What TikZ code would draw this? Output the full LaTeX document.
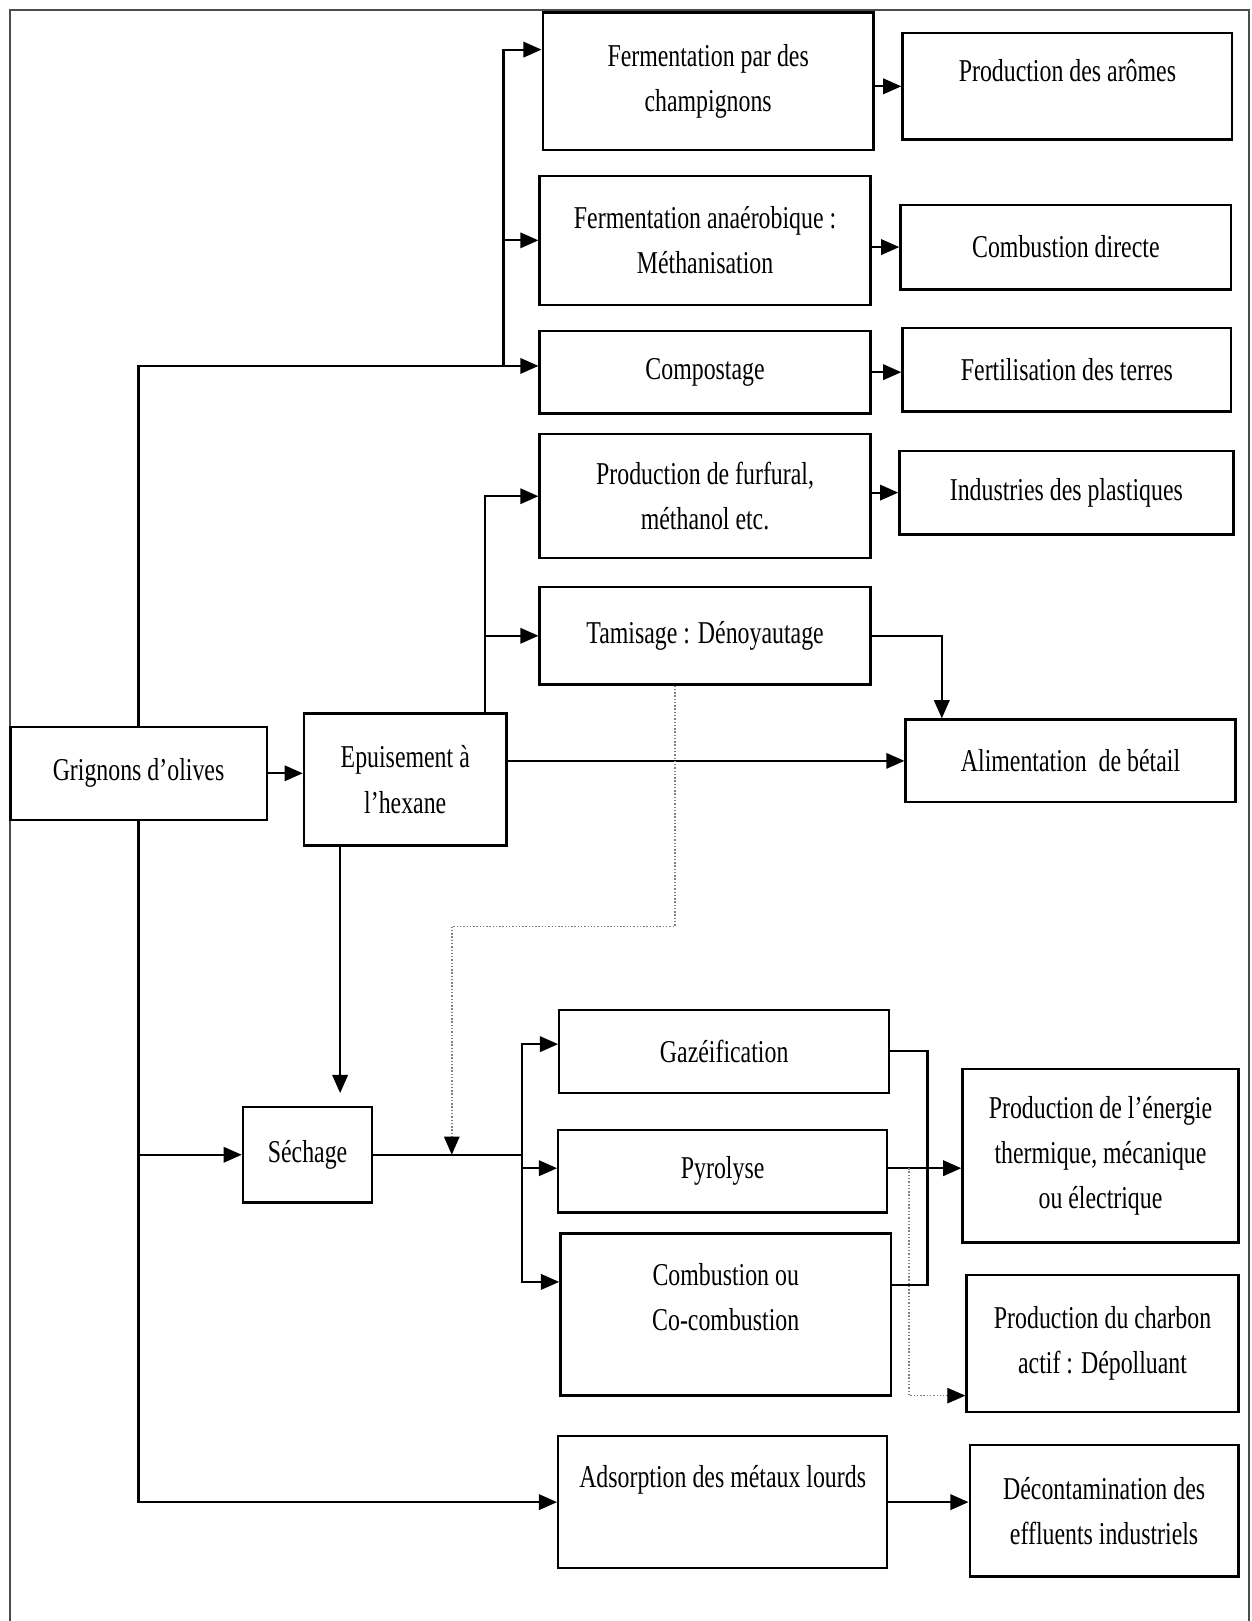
\documentclass[tikz,border=0pt]{standalone}
\usepackage{fontspec}
\setmainfont{Liberation Serif}[FakeStretch=0.75]
\usetikzlibrary{arrows.meta}

\begin{document}
\begin{tikzpicture}[
  boite/.style={
    rectangle,
    draw,
    line width=1.3pt,
    align=center,
    inner sep=2pt,
    font=\fontsize{17.5pt}{25pt}\selectfont
  },
  fleche/.style={
    -{Triangle[length=10pt,width=8.5pt]},
    line width=1.2pt
  },
  trait/.style={
    line width=1.2pt
  },
  pointille/.style={
    -{Triangle[length=10pt,width=8.5pt,color=black]},
    densely dotted,
    gray,
    line width=0.8pt
  },
  cadre/.style={
    gray!60!black,
    line width=1.2pt
  }
]

\useasboundingbox (0,0) rectangle (24.22,-31.36);

% =========================================================
% CADRE
% =========================================================

\draw[cadre]
  (0.2,-31.36) -- (0.2,-0.2) -- (24.16,-0.2) -- (24.16,-31.36);

% =========================================================
% ETAPES
% =========================================================

\node[boite, minimum width=4.96cm, minimum height=1.8cm] (grign) at (2.68,-14.96)
  {Grignons d’olives};

\node[boite, minimum width=3.92cm, minimum height=2.56cm] (epuis) at (7.84,-15.08)
  {Epuisement à\\l’hexane};

\node[boite, minimum width=2.5cm, minimum height=1.84cm] (sechage) at (5.95,-22.34)
  {Séchage};

% --- valorisation biologique ---

\node[boite, minimum width=6.4cm, minimum height=2.66cm] (ferm) at (13.70,-1.57)
  {Fermentation par des\\champignons};

\node[boite, minimum width=6.4cm, minimum height=2.5cm] (metha) at (13.64,-4.65)
  {Fermentation anaérobique :\\Méthanisation};

\node[boite, minimum width=6.4cm, minimum height=1.6cm] (compost) at (13.64,-7.20)
  {Compostage};

\node[boite, minimum width=6.4cm, minimum height=2.4cm] (furfural) at (13.64,-9.60)
  {Production de furfural,\\méthanol etc.};

\node[boite, minimum width=6.4cm, minimum height=1.88cm] (tamis) at (13.64,-12.30)
  {Tamisage : Dénoyautage};

% --- valorisation thermique ---

\node[boite, minimum width=6.38cm, minimum height=1.6cm] (gazei) at (14.01,-20.34)
  {Gazéification};

\node[boite, minimum width=6.36cm, minimum height=1.6cm] (pyro) at (13.98,-22.66)
  {Pyrolyse};

\node[boite, minimum width=6.4cm, minimum height=3.14cm] (combu) at (14.04,-25.43)
  {Combustion ou\\Co-combustion\\[-6pt]\mbox{}};

\node[boite, minimum width=6.36cm, minimum height=2.56cm] (adsorp) at (13.98,-29.06)
  {Adsorption des métaux lourds\\[3pt]\mbox{}};

% --- produits ---

\node[boite, minimum width=6.38cm, minimum height=2.06cm] (aromes) at (20.65,-1.67)
  {Production des arômes\\[-8pt]\mbox{}};

\node[boite, minimum width=6.4cm, minimum height=1.64cm] (combdir) at (20.62,-4.78)
  {Combustion directe};

\node[boite, minimum width=6.36cm, minimum height=1.62cm] (fertil) at (20.64,-7.15)
  {Fertilisation des terres};

\node[boite, minimum width=6.46cm, minimum height=1.62cm] (plast) at (20.63,-9.53)
  {Industries des plastiques};

\node[boite, minimum width=6.38cm, minimum height=1.6cm] (betail) at (20.71,-14.72)
  {Alimentation\ \ de bétail};

\node[boite, minimum width=5.34cm, minimum height=3.36cm] (energie) at (21.29,-22.36)
  {Production de l’énergie\\thermique, mécanique\\ou électrique};

\node[boite, minimum width=5.26cm, minimum height=2.66cm] (charbon) at (21.33,-25.99)
  {Production du charbon\\actif : Dépolluant};

\node[boite, minimum width=5.2cm, minimum height=2.54cm] (decont) at (21.36,-29.23)
  {Décontamination des\\effluents industriels};

% =========================================================
% BRANCHE HAUTE
% =========================================================

\coordinate (haut) at (9.74,-7.08);

\draw[fleche]
  (grign.north) |- ([yshift=0.12cm]compost.west);

\draw[fleche]
  (haut) |- ([yshift=0.61cm]ferm.west);

\draw[fleche]
  (haut |- metha.west) -- (metha.west);

\draw[fleche] (ferm.east |- aromes.west) -- (aromes.west);
\draw[fleche] (metha.east |- combdir.west) -- (combdir.west);
\draw[fleche] (compost.east) -- (compost.east -| fertil.west);
\draw[fleche] (furfural.east |- plast.west) -- (plast.west);

% =========================================================
% EPUISEMENT
% =========================================================

\draw[fleche]
  (grign.east) -- (grign.east -| epuis.west);

\draw[fleche]
  ([xshift=1.54cm]epuis.north) |- (furfural.west);

\draw[fleche]
  ([xshift=1.54cm]epuis.north |- tamis.west) -- (tamis.west);

\draw[fleche]
  (epuis.east |- betail.west) -- (betail.west);

\draw[fleche]
  (tamis.east) -| ([xshift=-2.49cm]betail.north);

\draw[fleche]
  ([xshift=-1.26cm]epuis.south) -- ([xshift=-1.26cm,yshift=0.25cm]epuis.south |- sechage.north);

% =========================================================
% SECHAGE ET VOIE THERMIQUE
% =========================================================

\coordinate (sj) at (8.74,-22.34);
\coordinate (bas) at (10.10,-22.34);

\draw[pointille]
  ([xshift=-0.58cm]tamis.south) -- ++(0,-4.66) -| (sj);

\draw[fleche]
  (grign.south |- sechage.west) -- (sechage.west);

\draw[trait]
  (sechage.east) -- (bas);

\draw[fleche] (bas) |- ([yshift=0.14cm]gazei.west);
\draw[fleche] (bas) |- ([yshift=0.06cm]pyro.west);
\draw[fleche] (bas) |- ([yshift=0.63cm]combu.west);

\draw[trait]
  (gazei.east) -| ([xshift=0.68cm,yshift=0.57cm]combu.east)
  -- ([yshift=0.57cm]combu.east);

\draw[fleche]
  ([yshift=0.06cm]pyro.east) -- ([yshift=0.06cm]pyro.east -| energie.west);

\draw[pointille]
  ([xshift=0.4cm,yshift=0.06cm]pyro.east) |- ([yshift=-1.01cm]charbon.west);

% =========================================================
% ADSORPTION
% =========================================================

\draw[fleche]
  (grign.south) |- (adsorp.west);

\draw[fleche]
  (adsorp.east) -- (adsorp.east -| decont.west);

\end{tikzpicture}
\end{document}
